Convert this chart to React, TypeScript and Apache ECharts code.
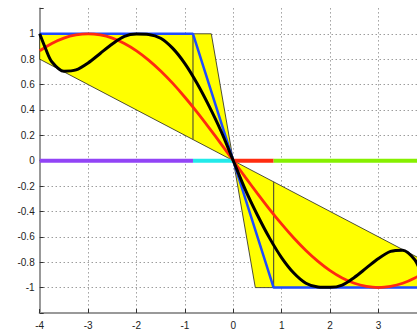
import React, { useEffect, useRef } from "react";
import * as echarts from "echarts";

// Axis ranges / ticks
const xMin = -4;
const xMax = 4;
const xStep = 1;
const yMin = -1.2;
const yMax = 1.2;
const yStep = 0.2;

// Red curve
const redX = [-4, -3.75, -3.5, -3.25, -3, -2.75, -2.5, -2.25, -2, -1.75, -1.5, -1.25, -1, -0.75, -0.5, -0.25, 0,
  0.25, 0.5, 0.75, 1, 1.25, 1.5, 1.75, 2, 2.25, 2.5, 2.75, 3, 3.25, 3.5, 3.75, 4];
const redY = [0.866, 0.924, 0.966, 0.991, 1.0, 0.991, 0.966, 0.924, 0.866, 0.793, 0.707, 0.609, 0.5, 0.383, 0.259, 0.131, 0,
  -0.131, -0.259, -0.383, -0.5, -0.609, -0.707, -0.793, -0.866, -0.924, -0.966, -0.991, -1.0, -0.991, -0.966, -0.924, -0.866];

// Black curve
const blackX = [-4, -3.875, -3.75, -3.5, -3.25, -3, -2.75, -2.5, -2.25, -2, -1.75, -1.5, -1.25, -1, -0.75, -0.5, -0.25, 0,
  0.25, 0.5, 0.75, 1, 1.25, 1.5, 1.75, 2, 2.25, 2.5, 2.75, 3, 3.25, 3.5, 3.75, 3.875, 4];
const blackY = [1.0, 0.88, 0.78, 0.705, 0.715, 0.77, 0.845, 0.92, 0.98, 0.998, 0.995, 0.965, 0.885, 0.765, 0.61, 0.43, 0.23, 0,
  -0.23, -0.43, -0.61, -0.765, -0.885, -0.965, -0.995, -0.998, -0.98, -0.92, -0.845, -0.77, -0.715, -0.705, -0.78, -0.88, -1.0];

// Blue saturation line
const blueX = [-4, -0.833, 0.833, 4];
const blueY = [1, 1, -1, -1];

// Yellow sector patches
const leftPatchX = [-4, -4, -0.4545, 0];
const leftPatchY = [0.8, 1, 1, 0];
const rightPatchX = [0, 0.4545, 4, 4];
const rightPatchY = [0, -1, -1, -0.8];

// Thin vertical markers
const markerX = [-0.833, 0.833];
const markerTop = [1, -0.1667];
const markerBottom = [0.1667, -1];

// Zero-line colored segments
const zeroBreaks = [-4, -0.833, 0, 0.833, 4];
const zeroColors = ["#9244f6", "#22eaea", "#ff2c10", "#86f000"];

const pairs = (xs: number[], ys: number[]) => xs.map((x, i) => [x, ys[i]]);

function patchSeries(xs: number[], ys: number[]) {
  return {
    type: "custom",
    data: pairs(xs, ys),
    encode: { x: 0, y: 1 },
    z: 1,
    silent: true,
    renderItem: (params: any, api: any) => {
      if (params.dataIndex !== 0) return null;
      const pts = xs.map((x, i) => api.coord([x, ys[i]]));
      return {
        type: "polygon",
        shape: { points: pts },
        style: { fill: "#ffff00", stroke: "#222", lineWidth: 0.8 },
      };
    },
  };
}

export default function App() {
  const ref = useRef<HTMLDivElement>(null);
  useEffect(() => {
    if (!ref.current) return;
    const chart = echarts.init(ref.current, null, { renderer: "svg" });
    const nX = Math.round((xMax - xMin) / xStep) + 1;
    const nY = Math.round((yMax - yMin) / yStep) + 1;
    const xGridColors = Array.from({ length: nX }, (_, i) => (i === 0 || i === nX - 1 ? "transparent" : "#6f6f6f"));
    const yGridColors = Array.from({ length: nY }, (_, i) => (i === 0 || i === nY - 1 ? "transparent" : "#6f6f6f"));
    const font = "Liberation Sans, Arial, sans-serif";

    const series: any[] = [];
    series.push(patchSeries(leftPatchX, leftPatchY));
    series.push(patchSeries(rightPatchX, rightPatchY));
    markerX.forEach((x, i) => {
      series.push({
        type: "line",
        data: [[x, markerTop[i]], [x, markerBottom[i]]],
        showSymbol: false,
        lineStyle: { color: "#5a5a30", width: 1.2 },
        z: 2,
        silent: true,
      });
    });
    zeroColors.forEach((c, i) => {
      series.push({
        type: "line",
        data: [[zeroBreaks[i], 0], [zeroBreaks[i + 1], 0]],
        showSymbol: false,
        lineStyle: { color: c, width: 4, cap: "butt" },
        z: 3,
        silent: true,
      });
    });
    series.push({
      type: "line",
      data: pairs(blueX, blueY),
      showSymbol: false,
      lineStyle: { color: "#1f4cff", width: 2.5 },
      z: 4,
      silent: true,
    });
    series.push({
      type: "line",
      data: pairs(redX, redY),
      showSymbol: false,
      smooth: 0.3,
      lineStyle: { color: "#ff2a10", width: 2.8 },
      z: 5,
      silent: true,
    });
    series.push({
      type: "line",
      data: pairs(blackX, blackY),
      showSymbol: false,
      smooth: 0.3,
      lineStyle: { color: "#000", width: 3 },
      z: 6,
      silent: true,
    });

    chart.setOption({
      animation: false,
      grid: { left: 39.7, top: 8.4, width: 387.2, height: 305.2 },
      xAxis: {
        type: "value",
        min: xMin,
        max: xMax,
        interval: xStep,
        axisLine: { onZero: false, lineStyle: { color: "#999", width: 2 } },
        axisTick: { inside: true, length: 4, lineStyle: { color: "#333" } },
        axisLabel: { color: "#222", fontSize: 10, margin: 7, fontFamily: font, showMaxLabel: false },
        splitLine: { show: true, lineStyle: { color: xGridColors, type: [1, 3], width: 1 } },
      },
      yAxis: {
        type: "value",
        min: yMin,
        max: yMax,
        interval: yStep,
        axisLine: { onZero: false, lineStyle: { color: "#999", width: 2 } },
        axisTick: { inside: true, length: 4, lineStyle: { color: "#333" } },
        axisLabel: {
          color: "#222",
          fontSize: 10,
          margin: 5,
          fontFamily: font,
          formatter: (v: number) => (Math.abs(v) > 1.05 ? "" : String(Number(v.toFixed(1)))),
        },
        splitLine: { show: true, lineStyle: { color: yGridColors, type: [1, 3], width: 1 } },
      },
      series,
    });
    return () => chart.dispose();
  }, []);
  return (
    <div style={{ position: "absolute", left: 0, top: 0, width: 417, height: 330, overflow: "hidden", background: "#fff" }}>
      <div ref={ref} style={{ width: 440, height: 330 }} />
    </div>
  );
}
